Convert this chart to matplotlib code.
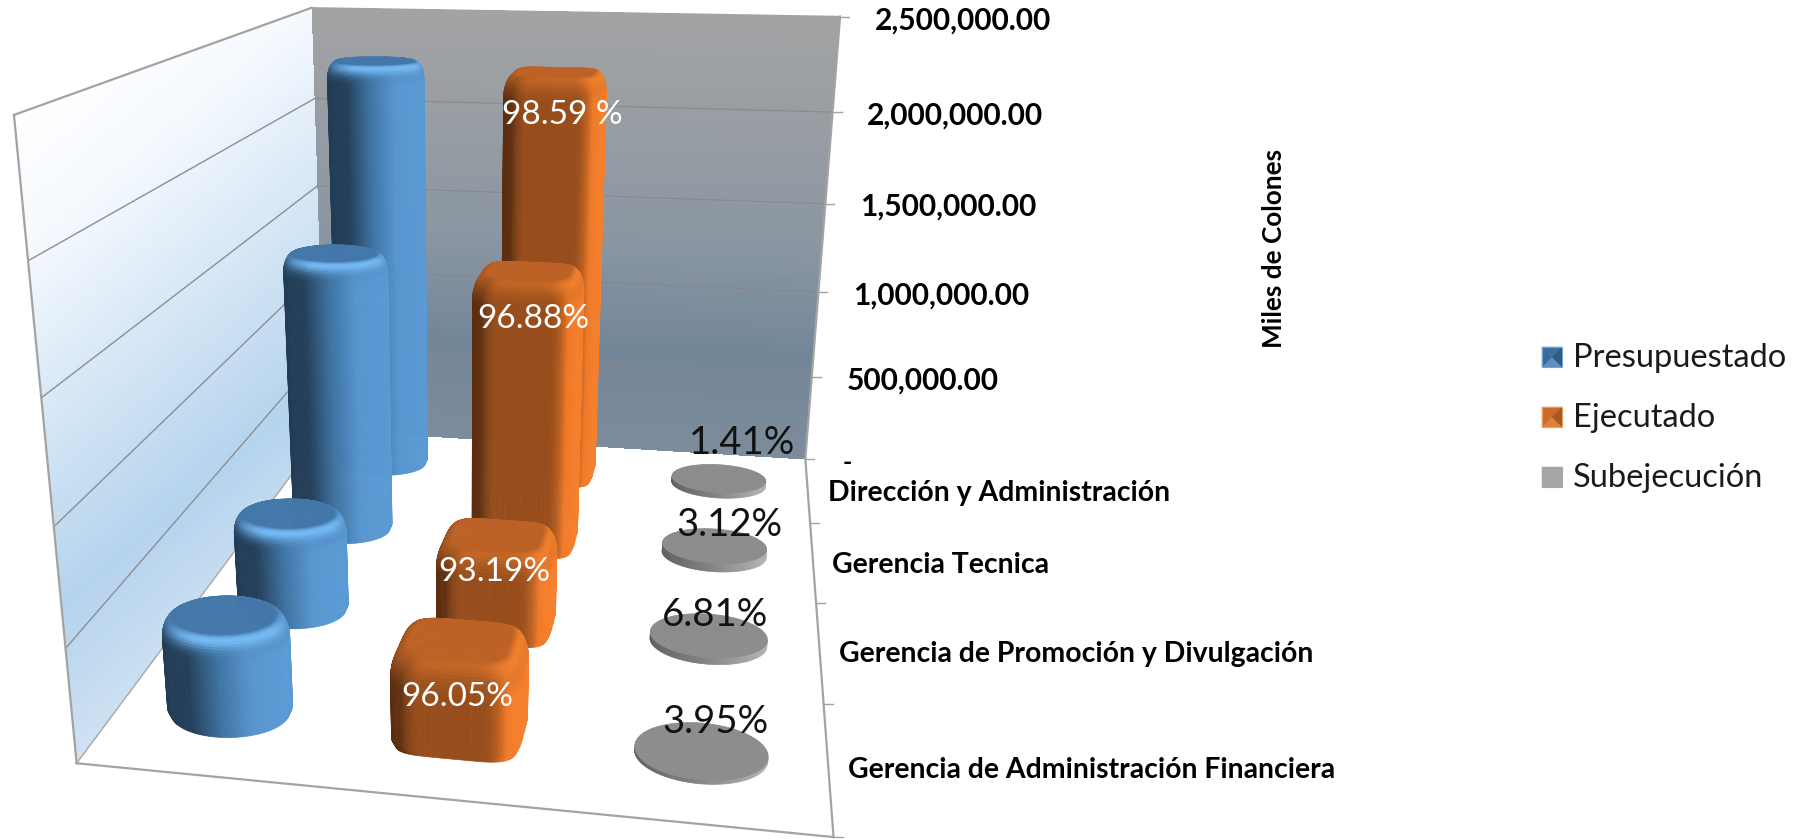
import numpy as np
import matplotlib
matplotlib.use("Agg")
import matplotlib.pyplot as plt
from matplotlib.collections import PolyCollection
from matplotlib.colors import to_rgb
from matplotlib.patches import Polygon

categories = ["Dirección y Administración", "Gerencia Tecnica",
              "Gerencia de Promoción y Divulgación", "Gerencia de Administración Financiera"]
series_names = ["Presupuestado", "Ejecutado", "Subejecución"]
presupuestado = [2280000, 1470000, 486000, 445000]
ejecutado = [2245000, 1424000, 453000, 421000]
subejecucion = [32100, 45900, 33000, 17500]
labels_ejecutado = ["98.59 %", "96.88%", "93.19%", "96.05%"]
labels_subejecucion = ["1.41%", "3.12%", "6.81%", "3.95%"]
axis_max = 2500000
value_ticks = [500000, 1000000, 1500000, 2000000, 2500000]
value_tick_labels = ["500,000.00", "1,000,000.00", "1,500,000.00", "2,000,000.00", "2,500,000.00"]

W, H = 1795, 839
FONT = "Lato"

# camera: box corners and ticks (x across, y depth, z height) -> pixels in the picture
world = np.array([[0, 0, 0], [1, 0, 0], [0, 1, 0], [1, 1, 0], [0, 0, 1], [1, 0, 1], [0, 1, 1],
                  [1, 0, .8], [1, 0, .6], [1, 0, .4], [1, 0, .2],
                  [1, .25, 0], [1, .5, 0], [1, .75, 0],
                  [0, 1, .8], [0, 1, .6], [0, 1, .4], [0, 1, .2]], float)
pixels = np.array([[326, 431], [805, 458], [75, 763], [833, 837], [311, 7], [840, 17], [13, 116],
                   [834, 113], [825, 203], [818, 292], [811, 376],
                   [810, 523], [817, 603], [824, 706],
                   [29, 261], [41, 397], [55, 526], [66, 648]], float)

A, b = [], []
for (X, Y, Z), (u, v) in zip(world, pixels):
    A.append([X, Y, Z, 1, 0, 0, 0, 0, -u * X, -u * Y, -u * Z])
    A.append([0, 0, 0, 0, X, Y, Z, 1, -v * X, -v * Y, -v * Z])
    b += [u, v]
sol = np.linalg.lstsq(np.array(A), np.array(b), rcond=None)[0]
P = np.append(sol, 1).reshape(3, 4)


def project(X, Y, Z):
    X, Y, Z = np.broadcast_arrays(X, Y, Z)
    w = P[2, 0] * X + P[2, 1] * Y + P[2, 2] * Z + P[2, 3]
    u = (P[0, 0] * X + P[0, 1] * Y + P[0, 2] * Z + P[0, 3]) / w
    v = (P[1, 0] * X + P[1, 1] * Y + P[1, 2] * Z + P[1, 3]) / w
    return u, v


def ramp(t, stops):
    t = np.asarray(t, float)
    pos = [s[0] for s in stops]
    cols = np.array([to_rgb(s[1]) for s in stops])
    return np.stack([np.interp(t, pos, cols[:, i]) for i in range(3)], axis=-1)


fig = plt.figure(figsize=(W / 100, H / 100), dpi=100)
ax = fig.add_axes([0, 0, 1, 1])
ax.set_xlim(0, W)
ax.set_ylim(H, 0)
ax.axis("off")

# back wall
gx, gz = np.meshgrid(np.linspace(0, 1, 3), np.linspace(0, 1, 161))
u, v = project(gx, 0 * gx, gz)
zc = (gz[:-1, :-1] + gz[1:, 1:]) / 2
back_stops = [(0, "#7d8c9b"), (.25, "#738698"), (.5, "#8a96a2"), (.8, "#9a9ea3"), (1, "#a2a3a4")]
ax.pcolormesh(u, v, ramp(zc, back_stops), shading="flat", antialiased=False, zorder=1)

# left wall
gy, gz = np.meshgrid(np.linspace(0, 1, 161), np.linspace(0, 1, 161))
u, v = project(0 * gy, gy, gz)
uc = (u[:-1, :-1] + u[1:, 1:]) / 2
vc = (v[:-1, :-1] + v[1:, 1:]) / 2
left_stops = [(96, "#ffffff"), (207, "#f5f9fe"), (500, "#b5d3ed"), (629, "#d0e2f3")]
ax.pcolormesh(u, v, ramp(.65 * uc + .76 * vc, left_stops), shading="flat", antialiased=False, zorder=1)

# gridlines
for val in value_ticks[:-1]:
    z = val / axis_max
    u, v = project([0, 0], [1, 0], [z, z])
    ax.plot(u, v, color="#8e8e8e", lw=1.0, zorder=2)
    u, v = project([0, 1], [0, 0], [z, z])
    ax.plot(u, v, color="#85878a", lw=0.9, alpha=.8, zorder=2)

# box edges
edge = dict(color="#a3a3a3", lw=1.6, zorder=3, solid_capstyle="projecting")
for a, c in [((0, 1, 1), (0, 0, 1)), ((0, 1, 0), (0, 1, 1)), ((0, 1, 0), (1, 1, 0)),
             ((1, 0, 0), (1, 1, 0)), ((1, 0, 0), (1, 0, 1))]:
    u, v = project(*zip(a, c))
    ax.plot(u, v, **edge)
u, v = project([0, 0], [1, 0], [0, 0])
ax.plot(u, v, color="#a8a8a8", lw=1.0, zorder=3)
u, v = project([0, 1], [0, 0], [1, 1])
ax.plot(u, v, color="#a3a3a3", lw=1.0, zorder=3)

# ticks
for val in [0] + value_ticks:
    u, v = project(1, 0, val / axis_max)
    ax.plot([u, u + 9], [v, v], color="#a3a3a3", lw=1.0, zorder=3)
for d in [.25, .5, .75, 1]:
    u, v = project(1, d, 0)
    ax.plot([u, u + 9], [v, v], color="#a3a3a3", lw=1.0, zorder=3)

col_x = [0.163, 0.497, 0.83]
row_y = [0.125, 0.375, 0.625, 0.875]
half_x, half_y = 0.09, 0.055

# side colours: cylinders run across their own width on screen, boxes by face direction
blue_side = [(0, "#223c55"), (.2, "#243f59"), (.45, "#3f74a3"), (.7, "#5896d0"), (1, "#5a9ad4")]
orange_side = [(-1, "#5c2e0f"), (-.4, "#5f3010"), (-.05, "#984e1c"), (.1, "#984e1c"), (.6, "#f07a28"), (1, "#f57f2c")]
gray_side = [(0, "#5f5f5f"), (.5, "#858585"), (1, "#b4b4b4")]


def column(cx, cy, value, power, side, top, glow, inset, bz, ambient, wx, wy):
    h = value / axis_max
    th = np.linspace(0, 2 * np.pi, 121)
    c, s = np.cos(th), np.sin(th)
    fx = np.sign(c) * np.abs(c) ** (2 / power)
    fy = np.sign(s) * np.abs(s) ** (2 / power)
    nx = np.sign(c) * np.abs(fx) ** (power - 1)
    ny = np.sign(s) * np.abs(fy) ** (power - 1)
    nn = np.hypot(nx, ny)
    nx, ny = nx / nn, ny / nn

    # profile up the column: foot, wall, rounded shoulder, flat top
    arc = np.linspace(0, 1, 13)
    foot_z = min(.012, h / 4) if bz else 0
    r = np.r_[.95 if bz else 1, 1, 1 - inset * (1 - np.cos(arc * np.pi / 2)), (1 - inset) * .5, 0.001]
    z = np.r_[0, foot_z, h - bz * (1 - np.sin(arc * np.pi / 2)), h, h]
    mix = np.r_[0, 0, arc, 1, 1]

    xx = cx + half_x * np.outer(r, fx)
    yy = cy + half_y * np.outer(r, fy)
    zz = np.outer(z, np.ones_like(th))
    u, v = project(xx, yy, zz)

    if power == 2:
        ring = u[1]
        side_col = ramp((ring - ring.min()) / (ring.max() - ring.min()), side)
    else:
        side_col = ramp(nx, side)
    top_col = np.array(to_rgb(top))
    glow_col = np.array(to_rgb(glow))
    verts, cols = [], []
    front = np.argmax(ny)
    q = lambda j, i: np.array([[u[j, i], v[j, i]], [u[j, i + 1], v[j, i + 1]],
                               [u[j + 1, i + 1], v[j + 1, i + 1]], [u[j + 1, i], v[j + 1, i]]])

    def area(p):
        return .5 * np.sum(p[:, 0] * np.roll(p[:, 1], -1) - np.roll(p[:, 0], -1) * p[:, 1])

    area_ref = np.sign(area(q(1, front)))
    for j in range(len(r) - 1):
        m = (mix[j] + mix[j + 1]) / 2
        for i in range(len(th) - 1):
            p = q(j, i)
            if area(p) * area_ref <= 0:
                continue
            col = side_col[i] * (1 - m) + top_col * m
            light = np.sin(np.pi * m ** 1.5) ** 2 * min(1, ambient + max(0, wx * nx[i] + wy * ny[i]))
            col = col * (1 - light) + glow_col * light
            verts.append(p)
            cols.append(col)
    ax.add_collection(PolyCollection(verts, facecolors=cols, edgecolors=cols, linewidths=.5, zorder=5))


for r in range(len(categories)):
    column(col_x[0], row_y[r], presupuestado[r], 2, blue_side, "#4478aa", "#74baf6", .22, .04, .25, .45, .9)
    column(col_x[1], row_y[r], ejecutado[r], 5, orange_side, "#bd6226", "#f0802c", .25, .05, .08, .9, .2)
    column(col_x[2], row_y[r], subejecucion[r], 2, gray_side, "#8c8c8c", "#8c8c8c", 0, 0, 0, 0, 0)

# value axis and category text
tick_x = [847, 853, 860, 867, 875]
tick_y = [381, 296, 207, 116, 21]
for t, x, y in zip(value_tick_labels, tick_x, tick_y):
    ax.text(x, y, t, family=FONT, weight="bold", fontsize=21.5, color="black", ha="left", va="center", zorder=8)
ax.text(843, 462, "-", family=FONT, weight="bold", fontsize=18, color="black", ha="left", va="center", zorder=8)

cat_x = [828, 832, 839, 848]
cat_y = [493, 565, 654, 770]
for t, x, y in zip(categories, cat_x, cat_y):
    ax.text(x, y, t, family=FONT, weight="bold", fontsize=20.4, color="black", ha="left", va="center", zorder=8)

ax.text(1274, 248, "Miles de Colones", family=FONT, weight="bold", fontsize=18.8, color="black",
        rotation=90, ha="center", va="center", zorder=8)

# data labels
white_x = [562, 533, 494, 457]
white_y = [115, 319, 572, 697]
for t, x, y in zip(labels_ejecutado, white_x, white_y):
    ax.text(x, y, t, family=FONT, fontsize=24, color="white", ha="center", va="center", zorder=9)
black_x = [742, 729, 715, 715]
black_y = [443, 525, 615, 722]
for t, x, y in zip(labels_subejecucion, black_x, black_y):
    ax.text(x, y, t, family=FONT, fontsize=27.5, color="#111111", ha="center", va="center", zorder=9)

# legend
legend_cols = [("#3c6f9f", "#5a90c4", "#3a6a98", "#2f5a82", "#6ea3d6"),
               ("#c96a2a", "#e0803a", "#c86c2c", "#a85a24", "#ee9a5a"),
               ("#a5a5a5", "#a5a5a5", "#a5a5a5", "#a5a5a5", "#a5a5a5")]
legend_y = [347, 407, 467]
for name, cols, y in zip(series_names, legend_cols, legend_y):
    x0, x1, y0, y1 = 1542, 1562, y, y + 20
    mx, my = (x0 + x1) / 2, (y0 + y1) / 2
    ax.add_patch(Polygon([(x0, y0), (x1, y0), (mx, my)], fc=cols[0], ec=cols[0], lw=.3, zorder=6))
    ax.add_patch(Polygon([(x0, y1), (x1, y1), (mx, my)], fc=cols[1], ec=cols[1], lw=.3, zorder=6))
    ax.add_patch(Polygon([(x0, y0), (x0, y1), (mx, my)], fc=cols[2], ec=cols[2], lw=.3, zorder=6))
    ax.add_patch(Polygon([(x1, y0), (x1, y1), (mx, my)], fc=cols[3], ec=cols[3], lw=.3, zorder=6))
    ax.add_patch(Polygon([(x0, y0), (x1, y0), (x1, y1), (x0, y1)], fc="none", ec=cols[4], lw=.8, zorder=7))
    ax.text(1573, y + 11, name, family=FONT, fontsize=23.5, color="#1a1a1a", ha="left", va="center", zorder=8)

fig.savefig("out.png", dpi=100)
